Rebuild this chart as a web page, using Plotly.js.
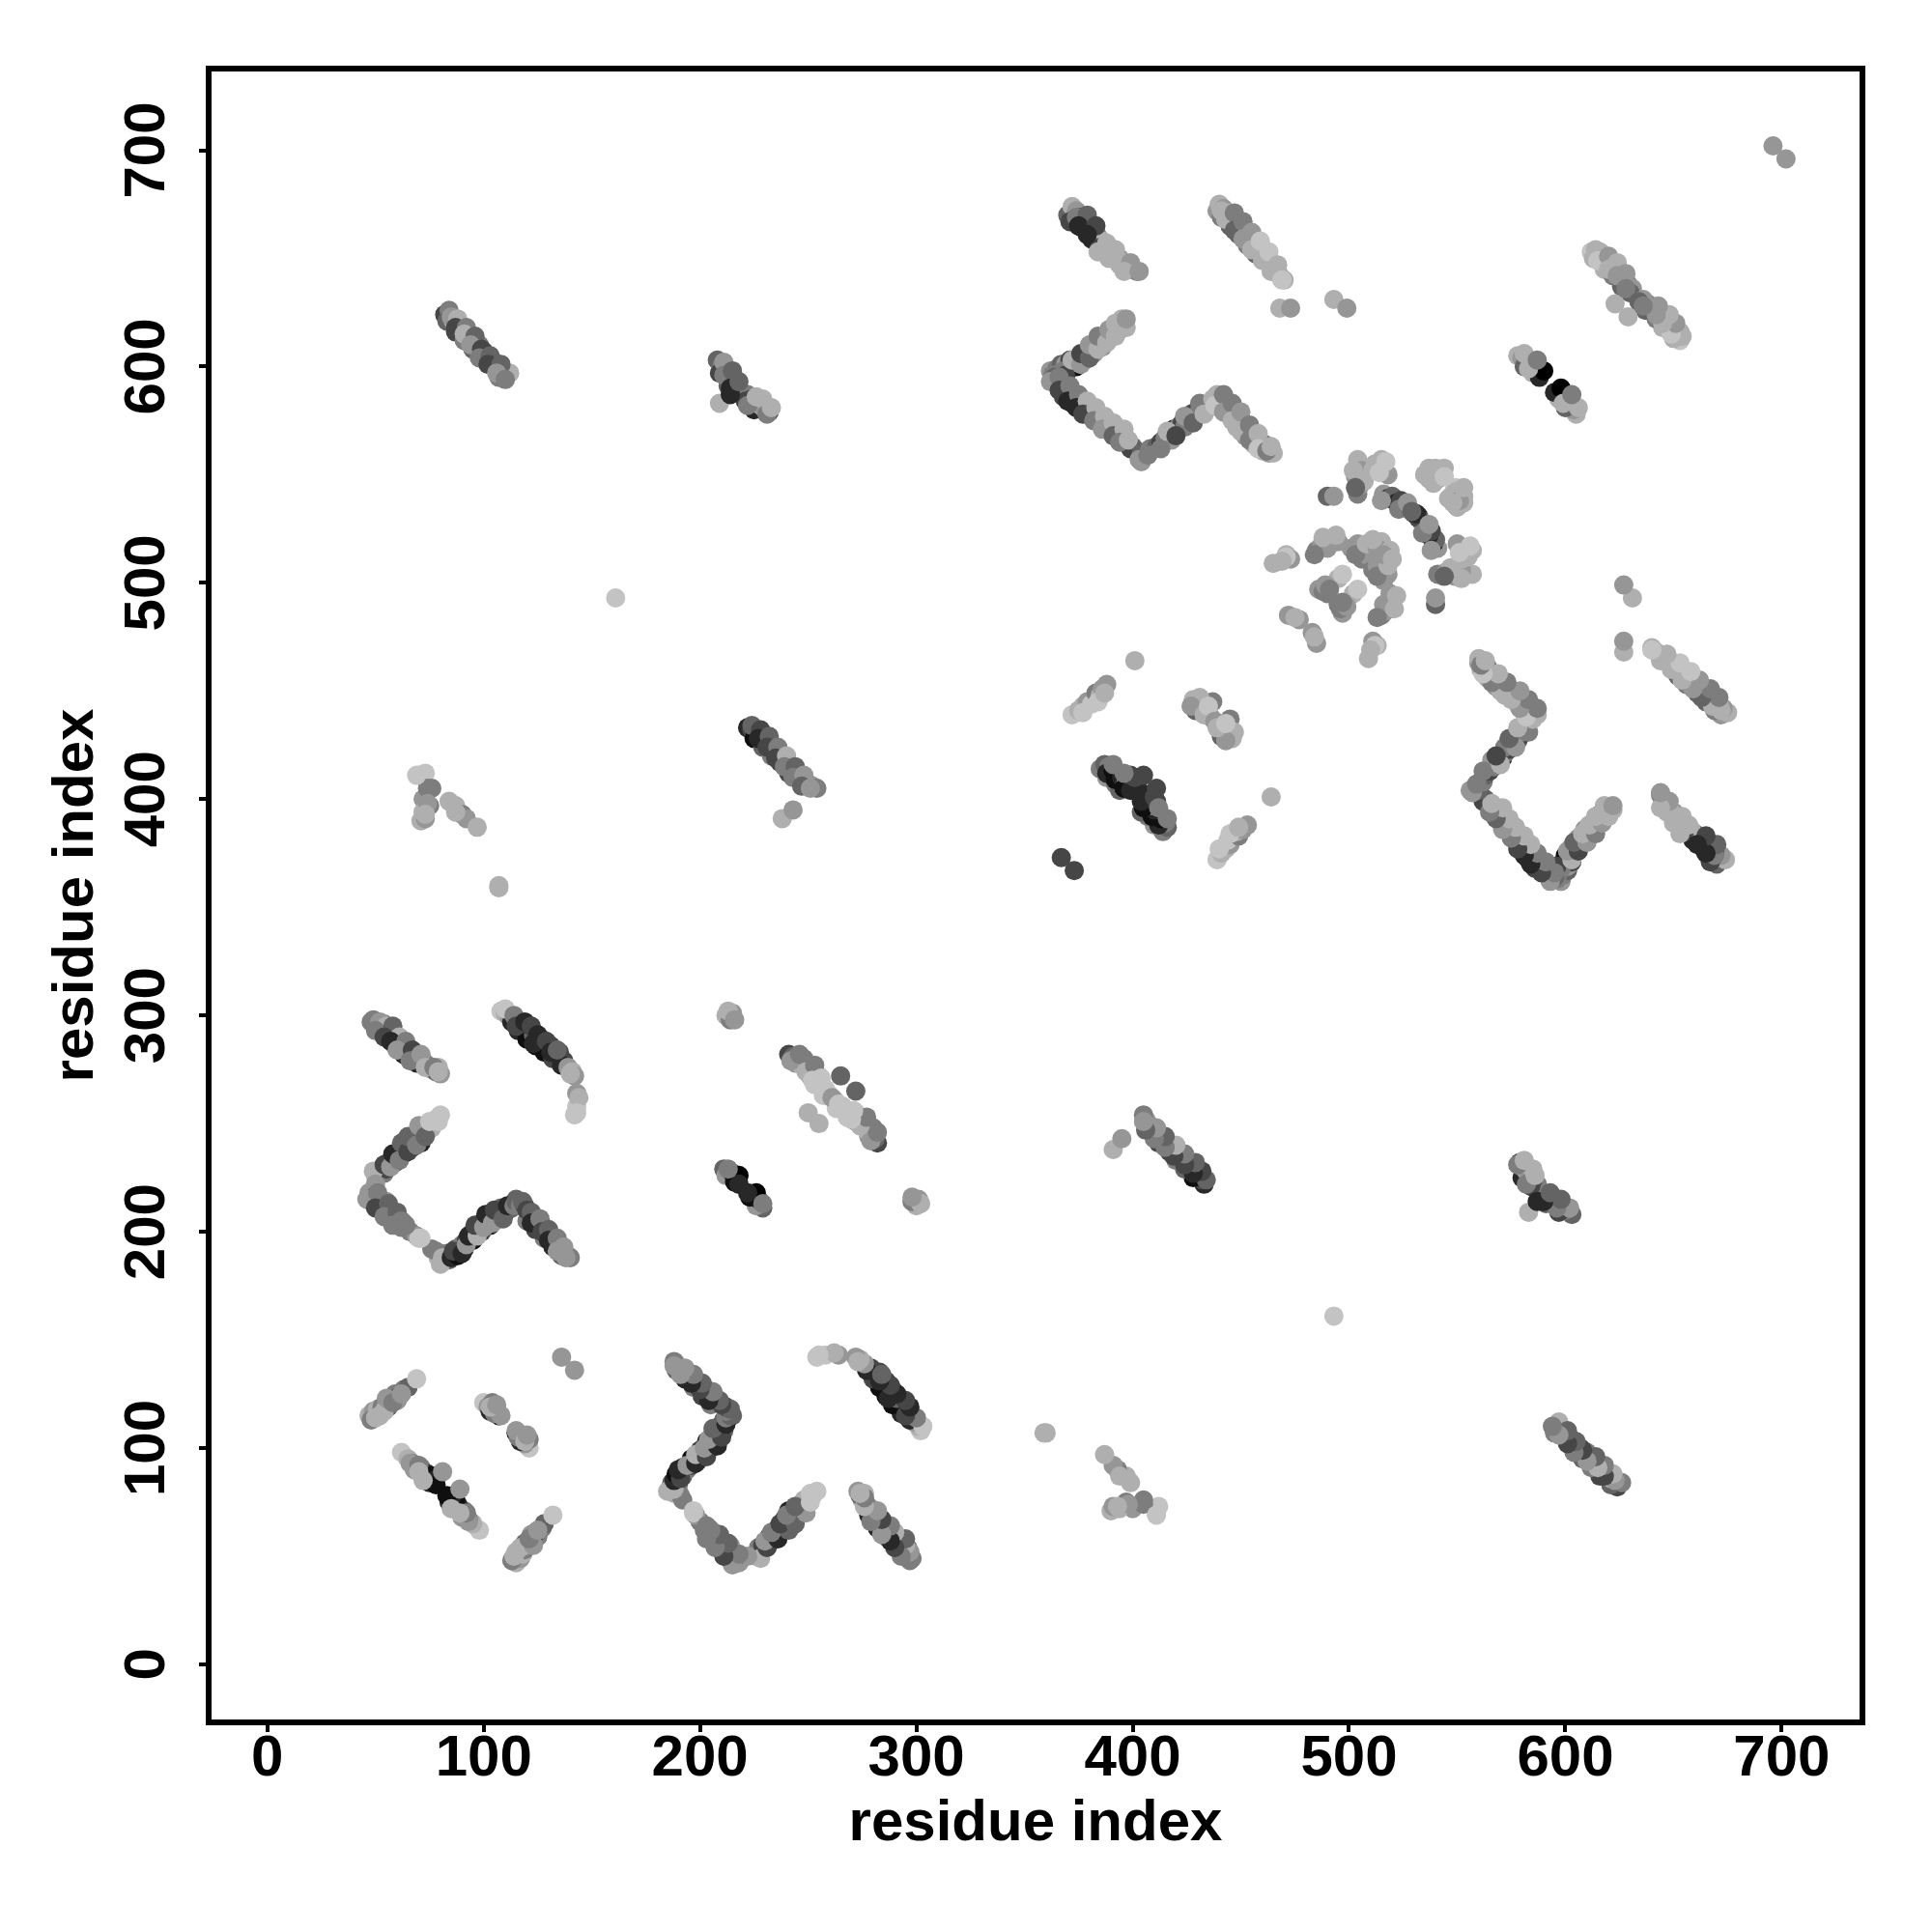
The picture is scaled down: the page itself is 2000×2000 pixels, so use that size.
<!DOCTYPE html>
<html><head><meta charset="utf-8"><script src="https://cdn.plot.ly/plotly-3.0.1.min.js"></script>
<style>html,body{margin:0;padding:0;background:#fff}</style></head><body><div id="c" style="width:2000px;height:2000px"></div>
<script>
// each contact: [residue i, residue j, gray level]; the map is symmetric, so each contact is drawn at (i,j) and (j,i)
const bandA=[[48,297,125],[50,296,100],[52,294,70],[54,296,125],[56,293,150],[55,291,40],[58,292,100],[60,288,70],[59,286,125],[62,287,150],[64,284,70],[63,282,40],[66,283,125],[68,280,150],[70,281,70],[69,278,40],[72,279,150],[74,277,125],[76,275,175],[78,274,100],[80,273,150],[79,276,175],
[49,298,125],[52,297,150],[55,295,175],[50,293,125],[58,295,100],[54,290,70],[61,290,175],[57,288,40],[64,288,125],[60,284,150],[67,284,70],[66,279,125],[71,282,150],[73,276,175],[77,276,125],[79,274,175]];
const bandB=[[108,302,195],[110,301,175],[112,299,150],[113,297,40],[115,298,125],[117,295,15],[116,293,40],[119,294,70],[121,292,40],[120,289,15],[123,291,100],[125,288,70],[124,286,15],[127,289,100],[129,285,40],[128,283,15],[131,286,70],[133,282,40],[132,280,70],[135,283,70],[137,279,70],[136,277,40],[139,276,150],[141,274,175],[142,272,150],[143,264,150],[143,258,195],[142,254,195],
[110,303,195],[114,300,125],[115,295,70],[119,297,40],[122,295,70],[125,291,40],[123,287,40],[129,288,70],[131,283,40],[134,284,100],[140,273,175],[144,262,175],[143,255,195]];
const bandC=[[50,226,150],[52,228,100],[54,227,125],[56,232,40],[55,229,70],[58,233,100],[60,236,40],[59,232,15],[62,238,125],[64,241,70],[63,236,40],[66,240,100],[68,244,40],[67,239,15],[70,246,100],[72,245,70],[71,241,40],[74,249,150],[76,248,175],[78,252,175],[80,254,195],
[49,228,175],[54,231,70],[57,230,150],[58,236,40],[61,233,125],[62,241,100],[65,237,70],[65,244,100],[69,240,125],[70,249,150],[73,244,100],[75,251,195],[79,251,195]];
const bandD=[[47,218,150],[48,214,125],[50,222,150],[49,216,100],[53,212,70],[55,214,150],[54,210,100],[57,207,70],[59,208,125],[58,205,40],[61,206,125],[63,204,100],[62,202,125],[66,200,125],[69,198,150],[70,197,195],[76,192,125],[79,188,175],[81,186,150],[83,190,125],[84,187,100],
[46,215,150],[51,218,125],[50,211,70],[56,213,100],[54,207,125],[60,209,100],[58,203,125],[64,203,125],[62,205,125],[71,197,195],[78,191,125],[81,188,175],[80,185,175]];
const bandE=[[85,188,40],[87,192,100],[88,189,15],[90,194,125],[92,196,70],[91,192,40],[94,199,150],[96,201,70],[95,196,15],[98,203,125],[100,205,40],[99,200,70],[102,207,15],[104,206,125],[103,203,40],[106,209,70],[108,211,100],[107,206,125],[110,209,15],[113,211,100],[115,215,100],[117,213,70],
[86,191,70],[90,190,40],[92,194,150],[93,198,40],[97,198,175],[96,203,70],[100,202,150],[101,208,40],[104,204,150],[105,210,70],[109,206,100],[111,212,40],[114,212,125]];
const bandF=[[115,214,100],[117,212,125],[119,212,70],[121,208,40],[120,205,125],[123,206,100],[125,204,40],[124,201,70],[127,203,70],[129,199,40],[128,197,125],[131,198,70],[133,195,100],[132,193,40],[135,192,125],[137,191,150],[136,189,100],[139,189,175],[140,188,125],
[118,214,100],[120,210,70],[122,209,100],[122,204,40],[126,206,125],[127,200,70],[130,201,100],[130,196,40],[134,197,125],[134,191,150],[137,193,150],[138,188,150]];
const bandG=[[47,115,175],[49,117,150],[48,113,125],[51,118,175],[53,119,125],[52,115,175],[55,120,150],[57,123,125],[56,119,100],[59,125,125],[61,124,70],[60,122,150],[63,127,125],[65,128,100],[69,132,195],
[50,114,175],[54,117,175],[55,123,150],[59,122,150],[58,121,125],[62,125,150]];
const bandH=[[62,98,195],[65,95,175],[67,93,125],[69,92,100],[68,90,150],[71,91,125],[72,89,100],[74,88,40],[73,86,150],[76,87,15],[77,85,40],[75,84,40],[78,83,15],[81,89,150],
[66,93,150],[70,92,125],[70,89,175],[72,85,175]];
const bandI=[[100,121,195],[102,119,150],[104,121,125],[103,117,40],[106,118,150],[107,115,15],[105,116,125],[108,115,150],[103,119,175],[106,120,150]];
const bandJ=[[70,411,195],[73,412,195],[72,400,150],[74,405,125],[71,390,175],[76,405,125],[73,391,150],[75,397,125],[84,399,175],[87,397,175],[90,393,125],[92,391,150],[97,387,175],[72,394,175],[74,398,150],[69,411,195],[73,393,175],[87,394,175]];
const bandK=[[82,624,70],[84,626,125],[83,621,100],[86,621,175],[88,619,150],[87,616,70],[90,617,150],[92,615,100],[91,612,125],[94,613,70],[96,611,175],[95,608,100],[98,610,125],[100,607,70],[99,605,100],[102,605,70],[104,603,125],[103,601,40],[106,600,100],[108,598,125],[107,595,125],[110,596,195],[112,597,175],
[85,623,150],[88,622,175],[87,618,70],[92,618,125],[91,615,175],[96,614,100],[94,610,150],[99,608,70],[98,604,125],[103,605,100],[102,601,70],[108,601,100],[106,597,150],[110,594,125]];
const bandL=[[211,229,100],[213,228,70],[212,226,150],[215,227,40],[217,226,195],[216,223,15],[218,226,0],[218,222,40],[213,229,125]];
const bandM=[[241,282,70],[243,281,100],[245,281,125],[244,278,150],[248,280,125],[247,277,175],[250,276,150],[252,275,175],[251,272,125],[255,272,195],[253,268,195],[256,268,195],[258,266,195],[257,263,195],[260,263,195],[265,272,100],[250,255,175],[262,261,150],
[242,279,150],[246,282,125],[249,274,175],[253,277,125],[252,270,195],[256,271,195],[259,264,195]];
const bandN=[[212,300,175],[215,301,150],[214,298,125],[213,302,175],[216,298,150]];
const bandO=[[222,433,40],[224,432,70],[226,431,100],[225,428,15],[228,429,40],[230,427,70],[229,424,100],[232,425,70],[234,423,40],[233,420,125],[236,421,100],[238,420,150],[237,417,70],[240,417,125],[242,415,175],[241,412,70],[244,412,150],[246,410,125],[248,408,100],[250,407,70],[252,406,150],[254,405,125],[238,391,175],[243,395,150],
[224,434,100],[228,432,70],[227,428,40],[232,429,100],[231,424,70],[236,424,125],[235,419,70],[240,420,175],[239,415,125],[244,415,100],[243,410,125],[248,411,150],[247,406,100],[251,405,150]];
const bandP=[[208,603,100],[210,600,125],[209,597,70],[212,596,100],[214,594,125],[213,591,100],[216,590,40],[218,588,100],[220,586,70],[222,587,125],[221,584,70],[224,585,70],[226,582,150],[225,580,40],[228,582,175],[230,580,150],[232,579,70],[209,583,175],[214,587,40],
[211,602,150],[211,596,125],[215,598,100],[214,590,40],[218,593,100],[222,582,125],[226,586,175],[229,585,175],[231,578,125],[233,581,175]];
const bandQ=[[367,373,70],[372,439,195],[375,441,175],[377,443,175],[379,445,150],[381,444,195],[383,449,125],[385,448,175],[386,451,150],[388,453,150],[401,464,175],[377,440,195],[384,445,195],[387,449,175]];
const bandR=[[385,414,125],[388,410,150],[392,407,125],[394,404,100],[387,416,100],[389,415,125],[388,412,40],[391,413,15],[393,412,70],[392,409,15],[395,410,40],[397,408,150],[396,405,15],[399,404,40],[399,411,70],[402,407,40],[405,411,70],[401,410,70],[396,412,125],[391,416,125]];
const bandS=[[428,446,175],[430,444,195],[429,441,100],[432,442,175],[434,441,40],[437,445,125],[436,438,150],[431,447,175],[427,443,150],[433,439,175],[435,443,195]];
const bandT=[[370,670,100],[372,674,175],[374,672,150],[373,668,40],[376,669,70],[378,667,70],[377,664,15],[380,664,70],[382,662,125],[381,659,40],[384,660,125],[386,658,175],[385,655,70],[388,655,175],[390,653,175],[392,651,175],[394,650,150],[396,648,175],[398,645,175],[400,645,125],[402,644,125],
[371,667,70],[374,669,125],[379,670,100],[375,665,40],[383,665,70],[379,661,40],[388,657,175],[384,653,175],[392,654,175],[389,650,175],[394,647,175],[399,648,150],[396,644,175],[403,644,150]];
const bandU=[[439,672,150],[440,675,175],[442,673,150],[441,669,125],[444,671,175],[446,668,125],[445,665,100],[448,666,150],[450,664,125],[449,661,100],[452,661,125],[454,659,175],[453,656,125],[456,657,195],[458,655,175],[457,652,100],[460,652,175],[462,649,125],[464,646,150],[466,644,175],[468,642,175],[470,640,175],
[441,672,175],[443,668,175],[447,671,125],[447,663,100],[451,667,125],[451,659,150],[455,662,150],[455,654,175],[459,658,195],[460,649,175],[463,653,195],[464,644,175],[467,647,175],[469,640,195]];
const bandV=[[468,627,175],[473,627,150],[493,631,175],[499,627,150]];
const bandW=[[362,598,150],[365,599,125],[367,601,100],[366,596,70],[369,601,150],[371,603,70],[370,598,40],[373,601,125],[375,604,40],[374,600,15],[377,605,100],[379,607,70],[378,603,125],[381,608,125],[383,610,70],[382,606,150],[385,612,100],[387,613,125],[386,609,150],[389,614,125],[391,617,150],[393,616,125],[395,622,175],[394,619,150],
[364,596,150],[368,598,125],[369,596,70],[372,603,175],[376,601,150],[376,606,70],[380,604,100],[380,610,150],[384,608,175],[384,614,125],[388,611,175],[389,617,150],[392,614,175],[392,620,175],[397,618,175],[397,622,150]];
const bandX=[[363,596,125],[365,593,70],[364,595,100],[367,591,100],[369,590,125],[368,586,70],[371,587,175],[373,585,70],[372,583,40],[375,583,150],[378,581,175],[380,578,100],[382,579,150],[385,575,70],[388,574,125],[390,573,175],[392,570,150],[395,568,125],[400,563,100],[402,561,100],[404,556,150],[399,562,70],
[362,593,150],[366,595,125],[366,589,70],[371,591,125],[370,584,40],[375,587,125],[374,581,40],[379,584,175],[377,578,70],[383,581,175],[382,575,125],[387,577,175],[386,571,150],[391,574,175],[391,568,100],[396,571,175],[394,565,125],[398,566,175]];
const bandY=[[404,560,100],[408,562,125],[411,563,100],[413,565,70],[415,567,125],[417,569,100],[419,571,40],[418,566,150],[421,572,125],[423,574,70],[425,576,100],[424,572,125],[427,578,100],[429,579,70],[431,580,125],[434,581,150],
[403,557,150],[407,559,125],[413,562,125],[416,570,175],[420,568,70],[424,577,150],[428,574,100],[431,583,125],[433,578,175]];
const bandZ=[[437,585,175],[439,587,175],[441,584,125],[440,581,150],[443,583,100],[445,581,125],[444,578,150],[447,577,70],[449,575,100],[448,572,175],[451,572,125],[453,570,70],[452,568,150],[455,569,125],[457,566,100],[456,564,175],[459,565,150],[461,564,125],[460,561,175],[463,560,150],[465,560,175],
[438,582,195],[442,587,125],[442,579,150],[446,583,125],[446,575,175],[450,579,150],[450,570,175],[454,573,125],[454,566,125],[458,569,175],[458,562,195],[462,561,125],[464,563,175]];
const bandAA=[[612,653,195],[614,654,175],[613,650,175],[617,650,125],[619,648,150],[618,645,175],[621,648,125],[623,645,150],[622,642,125],[625,641,70],[627,640,125],[626,637,100],[629,638,125],[631,636,150],[630,634,100],[623,629,175],
[616,653,175],[615,649,195],[620,651,150],[620,645,175],[624,648,175],[624,642,150],[628,643,150],[628,636,125]];
const bandAB=[[578,605,175],[580,604,150],[582,603,125],[581,600,100],[584,602,125],[586,600,70],[585,597,175],[588,595,40],[590,598,0],[581,606,175],[583,599,175],[587,603,125]];
const bandAC=[[696,702,150],[136,142,150],[107,359,175],[161,493,195],[360,107,175]];
const bandAD=[[504,557,175],[503,549,150],[504,541,125],[506,552,150],[515,557,175],[512,555,175],[516,553,175],[518,550,150],[490,540,100],[493,540,150],[535,550,175],[540,553,175],[542,549,175],[538,551,150],[552,540,175],[550,535,175],[548,541,150],
[502,552,175],[505,545,150],[507,547,175],[503,544,100],[511,552,175],[514,551,195],[517,556,195],[537,548,175],[544,553,175],[553,537,175],[546,539,175],[549,544,195]];
const bandAE=[[516,541,150],[518,539,40],[520,540,100],[522,537,40],[524,538,70],[526,535,125],[528,534,150],[530,532,70],[532,531,40],[515,538,150],[523,534,125],[527,537,150],[533,529,100]];
const bandAF=[[492,520,150],[485,515,125],[487,517,150],[489,518,125],[495,519,150],[504,518,150],[505,515,125],[506,511,125],[512,518,175],[471,513,175],[465,509,175],[473,511,150],[495,502,175],[486,497,150],[490,495,125],[488,496,125],[472,485,150],[477,483,150],[471,512,195],[510,516,125],[508,513,150],[515,519,175],
[490,516,150],[494,522,175],[484,513,125],[488,521,175],[501,516,150],[503,513,125],[469,510,175],[475,484,175],[489,499,150],[491,497,125],[497,504,195],[508,518,175],[513,516,150],[511,520,175]];
const allBands=[bandA,bandB,bandC,bandD,bandE,bandF,bandG,bandH,bandI,bandJ,bandK,bandL,bandM,bandN,bandO,bandP,bandQ,bandR,bandS,bandT,bandU,bandV,bandW,bandX,bandY,bandZ,bandAA,bandAB,bandAC,bandAD,bandAE,bandAF];
const tickValues=[0,100,200,300,400,500,600,700];
const axisTitle='residue index';

const pts=allBands.flat();
const xs=pts.map(p=>p[0]).concat(pts.map(p=>p[1]));
const ys=pts.map(p=>p[1]).concat(pts.map(p=>p[0]));
const cols=pts.concat(pts).map(p=>`rgb(${p[2]},${p[2]},${p[2]})`);
const font={family:'"Liberation Sans",Arial,sans-serif',size:60,color:'#000',weight:700};
const ax={tickvals:tickValues,ticktext:tickValues.map(String),ticks:'outside',ticklen:7,tickwidth:4,tickcolor:'#000',
  showline:true,mirror:true,linewidth:6,linecolor:'#000',showgrid:false,zeroline:false,tickfont:font,automargin:false};
Plotly.newPlot('c',[{type:'scatter',mode:'markers',x:xs,y:ys,marker:{size:20,color:cols,line:{width:0}},hoverinfo:'skip'}],{
  width:2000,height:2000,margin:{l:219,r:75,t:74,b:220},paper_bgcolor:'#fff',plot_bgcolor:'#fff',showlegend:false,
  xaxis:Object.assign({},ax,{range:[-25.8,736],ticklabelstandoff:-27,title:{text:axisTitle,font:Object.assign({},font,{size:60}),standoff:14}}),
  yaxis:Object.assign({},ax,{range:[-25.5,736.4],tickangle:-90,ticklabelstandoff:12,ticklabelshift:9,title:{text:axisTitle,font:Object.assign({},font,{size:60}),standoff:2}})
},{displayModeBar:false,staticPlot:true});
</script></body></html>
